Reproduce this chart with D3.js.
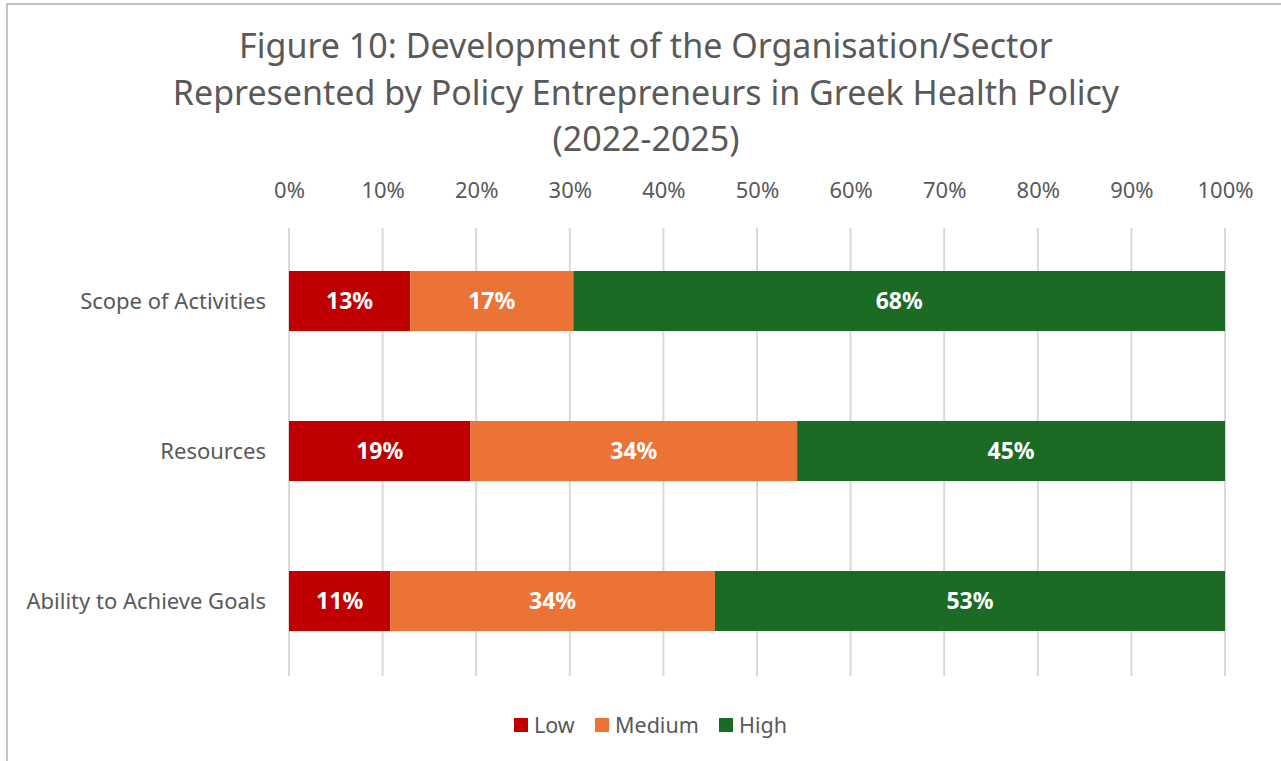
<!DOCTYPE html>
<html lang="en">
<head>
    <meta charset="utf-8">
    <style type="text/css">
        body { margin: 0; background-color: #fff; }
        svg { display: block; }
        text { font-family: "Noto Sans", "Open Sans", sans-serif; fill: #595959; }
        .grid line { stroke: #d9d9d9; stroke-width: 2px; }
        .value { fill: #fff; font-weight: bold; font-size: 23px; }
    </style>
    <script src="https://d3js.org/d3.v7.min.js"></script>
    <title>Figure 10</title>
</head>
<body>
    <div id="chart"></div>
    <script type="text/JavaScript">

        // data read from the figure (percent of respondents)
        var categories = ["Scope of Activities", "Resources", "Ability to Achieve Goals"];
        var levels = ["Low", "Medium", "High"];
        var low = [12.7, 19.0, 10.6];
        var medium = [17.1, 34.2, 34.0];
        var high = [68.3, 44.8, 53.4];
        var tickValues = [0, 0.1, 0.2, 0.3, 0.4, 0.5, 0.6, 0.7, 0.8, 0.9, 1];
        var colors = ["#c00000", "#ea7335", "#1b6b24"];
        var titleLines = ["Figure 10: Development of the Organisation/Sector",
            "Represented by Policy Entrepreneurs in Greek Health Policy",
            "(2022-2025)"];

        var width = 1281, height = 761;
        var margin = { top: 226, left: 289, right: 56, bottom: 85 };

        var svg = d3.select("#chart")
            .append("svg")
            .attr("width", width)
            .attr("height", height);

        // outer chart border
        svg.append("rect")
            .attr("x", 7).attr("y", 4)
            .attr("width", width + 10).attr("height", height + 10)
            .attr("fill", "none")
            .attr("stroke", "#adadad")
            .attr("stroke-width", 1.5);

        // title
        svg.append("g").selectAll("text")
            .data(titleLines)
            .join("text")
            .attr("x", 646)
            .attr("y", function(d, i) { return 58 + i * 46.5; })
            .attr("text-anchor", "middle")
            .style("font-size", "34px")
            .text(function(d) { return d; });

        var rows = categories.map(function(c, i) {
            return { category: c, Low: low[i], Medium: medium[i], High: high[i] };
        });
        var series = d3.stack().keys(levels).offset(d3.stackOffsetExpand)(rows);

        var x = d3.scaleLinear()
            .domain([0, 1])
            .range([margin.left, width - margin.right]);

        var y = d3.scaleBand()
            .domain(categories)
            .range([margin.top, height - margin.bottom])
            .paddingInner(0.6)
            .paddingOuter(0.3);

        // gridlines
        svg.append("g")
            .attr("class", "grid")
            .selectAll("line")
            .data(tickValues)
            .join("line")
            .attr("x1", function(d) { return x(d); })
            .attr("x2", function(d) { return x(d); })
            .attr("y1", margin.top + 2)
            .attr("y2", height - margin.bottom);

        // top axis labels
        var xAxis = svg.append("g")
            .attr("transform", "translate(0," + (margin.top - 25) + ")")
            .call(d3.axisTop(x).tickValues(tickValues).tickFormat(d3.format(".0%")).tickSize(0));
        xAxis.select(".domain").remove();
        xAxis.selectAll("text")
            .style("font-size", "22px")
            .style("font-family", null)
            .attr("fill", null);

        // category labels
        svg.append("g").selectAll("text")
            .data(categories)
            .join("text")
            .attr("x", margin.left - 23)
            .attr("y", function(d) { return y(d) + y.bandwidth() / 2; })
            .attr("dy", "0.35em")
            .attr("text-anchor", "end")
            .style("font-size", "22px")
            .text(function(d) { return d; });

        // bars
        var layer = svg.append("g").selectAll("g")
            .data(series)
            .join("g")
            .attr("fill", function(d, i) { return colors[i]; });

        layer.selectAll("rect")
            .data(function(d) { return d; })
            .join("rect")
            .attr("x", function(d) { return x(d[0]); })
            .attr("y", function(d) { return y(d.data.category); })
            .attr("width", function(d) { return x(d[1]) - x(d[0]); })
            .attr("height", y.bandwidth());

        // value labels show the raw percentages
        layer.selectAll("text")
            .data(function(d) { return d.map(function(p) { return { p: p, key: d.key }; }); })
            .join("text")
            .attr("class", "value")
            .attr("x", function(d) { return (x(d.p[0]) + x(d.p[1])) / 2; })
            .attr("y", function(d) { return y(d.p.data.category) + y.bandwidth() / 2; })
            .attr("dy", "0.35em")
            .attr("text-anchor", "middle")
            .text(function(d) { return Math.round(d.p.data[d.key]) + "%"; });

        // legend
        var legendX = [514, 595, 719];
        var legend = svg.append("g").selectAll("g")
            .data(levels)
            .join("g")
            .attr("transform", function(d, i) { return "translate(" + legendX[i] + ",725)"; });
        legend.append("rect")
            .attr("x", 0).attr("y", -7)
            .attr("width", 14).attr("height", 14)
            .attr("fill", function(d, i) { return colors[i]; });
        legend.append("text")
            .attr("x", 20)
            .attr("dy", "0.35em")
            .style("font-size", "21.5px")
            .text(function(d) { return d; });

    </script>
</body>
</html>
